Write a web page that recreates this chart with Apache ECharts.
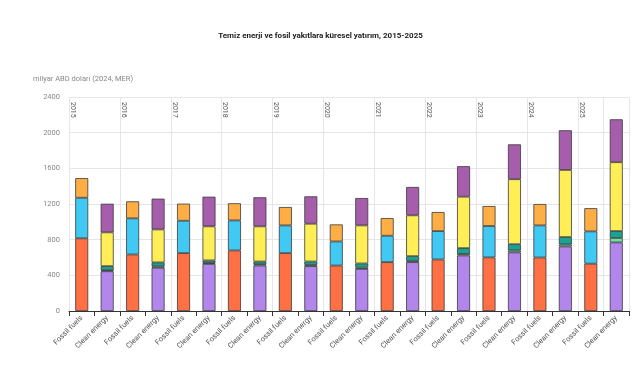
<!DOCTYPE html>
<html>
<head>
<meta charset="utf-8">
<script src="https://cdn.jsdelivr.net/npm/echarts@6/dist/echarts.min.js"></script>
<style>html,body{margin:0;padding:0;background:#fff}#c{width:641px;height:380px}</style>
</head>
<body>
<div id="c"></div>
<script>
const years = ['2015','2016','2017','2018','2019','2020','2021','2022','2023','2024','2025'];
const groupLabels = ['Fossil fuels','Clean energy'];
const yTicks = [0, 400, 800, 1200, 1600, 2000, 2400];

// Fossil fuels components (billion USD)
const fossilA = [815, 634, 649, 679, 649, 510, 548, 578, 601, 600, 531];
const fossilB = [455, 405, 363, 337, 311, 270, 296, 318, 352, 360, 362];
const fossilC = [220, 191, 192, 192, 206, 191, 198, 214, 224, 240, 260];
// Clean energy components
const cleanA = [446, 485, 528, 510, 503, 472, 548, 623, 657, 724, 769];
const cleanB = [12, 15, 12, 15, 15, 15, 15, 17, 22, 23, 50];
const cleanC = [45, 45, 27, 30, 37, 46, 52, 65, 70, 82, 77];
const cleanD = [379, 370, 382, 394, 424, 427, 458, 577, 729, 753, 773];
const cleanE = [321, 345, 333, 326, 307, 307, 318, 342, 391, 445, 481];

const categories = [];
years.forEach(() => groupLabels.forEach(g => categories.push(g)));
function spread(arr, slot) {
  const out = [];
  arr.forEach(v => { if (slot === 0) { out.push(v, null); } else { out.push(null, v); } });
  return out;
}
const seriesDefs = [
  {name:'Fossil A', data: spread(fossilA,0), color:'#FF7045'},
  {name:'Fossil B', data: spread(fossilB,0), color:'#42C9F3'},
  {name:'Fossil C', data: spread(fossilC,0), color:'#FFAE45'},
  {name:'Clean A', data: spread(cleanA,1), color:'#B286EA'},
  {name:'Clean B', data: spread(cleanB,1), color:'#6BE2A8'},
  {name:'Clean C', data: spread(cleanC,1), color:'#1AA394'},
  {name:'Clean D', data: spread(cleanD,1), color:'#FFEE55'},
  {name:'Clean E', data: spread(cleanE,1), color:'#A65DAC'}
];

const chart = echarts.init(document.getElementById('c'), null, {renderer:'canvas'});
const font = 'Roboto, "Noto Sans", sans-serif';
chart.setOption({
  animation: false,
  textStyle: {fontFamily: font},
  title: {
    text: 'Temiz enerji ve fosil yakıtlara küresel yatırım, 2015-2025',
    left: 'center', top: 27,
    textStyle: {fontSize: 8, fontWeight: 'bold', color: '#222', fontFamily: font}
  },
  grid: {left: 69, right: 12, top: 97, bottom: 69, containLabel: false},
  xAxis: [{
    type: 'category',
    data: categories,
    boundaryGap: true,
    axisLine: {lineStyle: {color: '#333', width: 1}},
    axisTick: {show: true, interval: 0, length: 5, lineStyle: {color: '#333'}},
    axisLabel: {interval: 0, rotate: 45, fontSize: 7.5, color: '#555', margin: 6},
    splitLine: {show: true, interval: 1, lineStyle: {color: '#e6e6e6', width: 1}}
  }, {
    type: 'value',
    position: 'top',
    min: 0, max: categories.length, interval: 2,
    axisLine: {show: false},
    axisTick: {show: false},
    splitLine: {show: false},
    axisLabel: {
      inside: true, rotate: 90, margin: 5, fontSize: 7, color: '#555',
      align: 'left', verticalAlign: 'bottom',
      showMaxLabel: false,
      formatter: v => years[v / 2] || ''
    }
  }],
  yAxis: {
    type: 'value',
    min: yTicks[0], max: yTicks[yTicks.length - 1], interval: 400,
    name: 'milyar ABD doları (2024, MER)',
    nameLocation: 'end',
    nameGap: 14,
    nameTextStyle: {fontSize: 7.5, color: '#888', align: 'left', padding: [0, 0, 0, -36]},
    axisLine: {show: false},
    axisTick: {show: false},
    axisLabel: {fontSize: 7.5, color: '#888', margin: 9, formatter: v => String(v)},
    splitLine: {lineStyle: {color: '#e6e6e6', width: 1}}
  },
  series: seriesDefs.map(s => ({
    name: s.name,
    type: 'bar',
    stack: 'total',
    xAxisIndex: 0,
    barWidth: 13,
    data: s.data,
    itemStyle: {color: s.color, borderColor: '#3a3a3a', borderWidth: 0.8}
  }))
});
</script>
</body>
</html>
